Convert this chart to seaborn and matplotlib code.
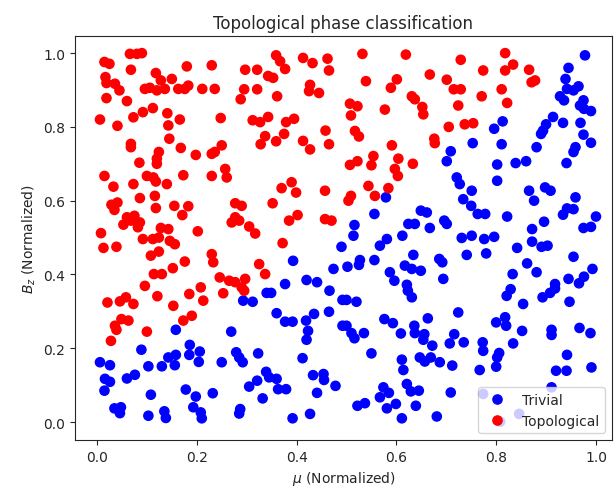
import matplotlib
matplotlib.use("Agg")
import matplotlib.pyplot as plt
import seaborn as sns
import pandas as pd

red_pts = [
    (0.015,0.976),(0.025,0.971),(0.066,0.998),(0.080,0.998),(0.090,1.0),(0.068,0.955),(0.017,0.935),(0.019,0.919),(0.036,0.917),(0.045,0.899),(0.019,0.878),(0.060,0.870),(0.118,0.946),(0.128,0.926),(0.150,0.930),(0.180,0.964),(0.096,0.903),(0.106,0.906),(0.120,0.899),(0.136,0.903),(0.163,0.903),(0.176,0.903),(0.183,0.912),(0.211,0.903),
    (0.006,0.820),(0.041,0.803),(0.073,0.826),(0.092,0.840),(0.112,0.851),(0.141,0.837),(0.143,0.804),(0.166,0.820),(0.145,0.768),(0.068,0.754),(0.068,0.745),(0.168,0.743),(0.198,0.724),(0.124,0.732),(0.120,0.714),(0.120,0.700),(0.085,0.703),
    (0.230,0.967),(0.359,0.994),(0.367,0.978),(0.377,0.957),(0.413,0.987),(0.432,0.973),(0.462,0.985),(0.465,0.953),(0.297,0.955),(0.321,0.955),(0.343,0.938),(0.353,0.933),(0.236,0.903),(0.295,0.902),(0.321,0.902),(0.288,0.875),(0.361,0.883),(0.427,0.914),(0.425,0.897),(0.445,0.892),(0.248,0.824),(0.312,0.818),(0.327,0.813),(0.343,0.827),(0.379,0.813),(0.395,0.822),(0.337,0.775),(0.328,0.753),(0.359,0.761),(0.375,0.781),(0.413,0.762),(0.427,0.739),(0.458,0.790),(0.465,0.753),(0.250,0.750),(0.236,0.732),(0.230,0.727),(0.257,0.686),
    (0.532,0.998),(0.619,0.996),(0.729,0.982),(0.667,0.942),(0.701,0.928),(0.539,0.924),(0.601,0.929),(0.589,0.906),(0.715,0.902),(0.729,0.902),(0.771,0.883),(0.631,0.883),(0.637,0.875),(0.507,0.863),(0.522,0.856),(0.509,0.831),(0.577,0.847),(0.652,0.854),(0.654,0.834),(0.724,0.858),(0.517,0.789),(0.525,0.774),(0.705,0.800),(0.737,0.807),(0.754,0.810),(0.676,0.768),(0.677,0.756),(0.591,0.750),(0.554,0.721),(0.550,0.696),(0.604,0.714),(0.597,0.686),(0.633,0.700),(0.507,0.697),(0.522,0.707),
    (0.818,1.0),(0.774,0.953),(0.818,0.953),(0.834,0.969),(0.866,0.955),(0.871,0.921),(0.878,0.926),(0.811,0.902),(0.822,0.865),
    (0.015,0.667),(0.100,0.667),(0.113,0.663),(0.118,0.652),(0.173,0.669),(0.033,0.638),(0.073,0.645),(0.140,0.645),(0.116,0.613),(0.086,0.607),(0.029,0.589),(0.041,0.595),(0.035,0.575),(0.118,0.580),(0.155,0.586),(0.183,0.585),(0.171,0.561),(0.060,0.555),(0.075,0.559),(0.053,0.535),(0.068,0.546),(0.086,0.541),(0.082,0.528),(0.128,0.526),(0.143,0.523),(0.202,0.517),(0.008,0.512),(0.092,0.496),(0.112,0.496),(0.124,0.500),(0.146,0.491),(0.156,0.482),(0.013,0.472),(0.039,0.475),(0.108,0.451),(0.124,0.462),
    (0.176,0.435),(0.152,0.417),(0.114,0.401),(0.130,0.401),(0.096,0.369),(0.121,0.341),(0.185,0.347),(0.208,0.365),(0.213,0.329),(0.021,0.324),(0.046,0.327),(0.058,0.338),(0.073,0.320),(0.153,0.315),
    (0.036,0.261),(0.049,0.279),(0.063,0.275),(0.039,0.250),(0.028,0.220),(0.100,0.245),(0.173,0.275),(0.190,0.288),
    (0.230,0.667),(0.260,0.663),(0.370,0.634),(0.390,0.650),(0.399,0.622),(0.457,0.627),(0.277,0.593),(0.290,0.586),(0.352,0.593),(0.277,0.555),(0.270,0.541),(0.285,0.546),(0.305,0.530),(0.317,0.511),(0.385,0.546),(0.402,0.561),(0.457,0.550),(0.470,0.546),(0.372,0.485),(0.230,0.455),(0.233,0.433),(0.325,0.428),(0.337,0.401),(0.246,0.392),(0.265,0.383),(0.277,0.379),(0.297,0.388),(0.290,0.365),(0.295,0.356),(0.253,0.349),
    (0.504,0.600),(0.509,0.613),(0.544,0.640),(0.557,0.613),(0.584,0.634),(0.603,0.667),
]

blue_pts = [
    (0.709,0.734),(0.701,0.707),(0.753,0.756),
    (0.978,0.994),(0.945,0.960),(0.939,0.930),(0.942,0.903),(0.955,0.899),(0.965,0.910),(0.928,0.883),(0.936,0.872),(0.975,0.872),(0.968,0.858),(0.976,0.849),(0.990,0.843),(0.914,0.827),(0.900,0.807),(0.934,0.811),(0.969,0.811),(0.894,0.790),(0.890,0.781),(0.975,0.779),(0.990,0.757),(0.813,0.815),(0.796,0.795),(0.811,0.753),(0.881,0.745),(0.959,0.745),(0.955,0.732),(0.802,0.698),(0.839,0.702),(0.860,0.707),(0.941,0.702),
    (0.158,0.250),(0.089,0.196),(0.006,0.162),(0.026,0.154),(0.016,0.117),(0.026,0.109),(0.015,0.085),(0.060,0.118),(0.076,0.128),(0.103,0.151),(0.130,0.151),(0.143,0.175),(0.158,0.182),(0.156,0.154),(0.186,0.209),(0.185,0.182),(0.206,0.191),(0.204,0.163),(0.108,0.074),(0.178,0.088),(0.198,0.069),(0.193,0.040),(0.208,0.026),(0.210,0.010),(0.035,0.037),(0.048,0.040),(0.046,0.024),(0.103,0.017),(0.135,0.029),(0.138,0.011),
    (0.490,0.475),(0.393,0.437),(0.474,0.415),(0.420,0.385),(0.441,0.379),(0.377,0.374),(0.340,0.350),(0.349,0.350),(0.466,0.356),(0.293,0.329),(0.312,0.326),(0.492,0.331),
    (0.360,0.295),(0.377,0.272),(0.392,0.272),(0.419,0.275),(0.435,0.293),(0.465,0.299),(0.423,0.247),(0.420,0.223),(0.492,0.261),(0.269,0.245),(0.279,0.189),(0.285,0.175),(0.292,0.162),(0.323,0.186),(0.250,0.162),(0.412,0.173),(0.339,0.136),(0.345,0.121),(0.360,0.117),(0.321,0.112),(0.305,0.096),(0.363,0.089),(0.379,0.089),(0.332,0.064),(0.232,0.078),(0.287,0.035),(0.285,0.023),(0.392,0.010),(0.427,0.022),(0.433,0.127),(0.454,0.130),(0.455,0.114),(0.478,0.098),(0.441,0.079),
    (0.579,0.609),(0.721,0.663),(0.727,0.645),(0.734,0.604),(0.751,0.627),(0.750,0.586),(0.763,0.564),(0.556,0.564),(0.516,0.534),(0.514,0.505),(0.649,0.573),(0.661,0.568),(0.696,0.546),(0.701,0.537),(0.624,0.537),(0.637,0.537),(0.667,0.526),(0.612,0.505),(0.581,0.496),(0.567,0.478),(0.731,0.499),(0.751,0.505),
    (0.634,0.453),(0.741,0.453),(0.527,0.439),(0.525,0.426),(0.502,0.421),(0.556,0.439),(0.686,0.442),(0.692,0.433),(0.617,0.424),(0.631,0.415),(0.649,0.410),(0.587,0.406),(0.596,0.383),(0.694,0.388),(0.621,0.372),(0.623,0.356),(0.631,0.338),(0.500,0.331),(0.520,0.326),
    (0.802,0.654),(0.866,0.627),(0.876,0.600),(0.898,0.636),(0.909,0.627),(0.959,0.609),(0.778,0.564),(0.822,0.557),(0.934,0.562),(0.942,0.579),(0.955,0.577),(1.000,0.557),(0.896,0.543),(0.872,0.523),(0.975,0.526),(0.990,0.529),(0.776,0.496),(0.796,0.502),(0.872,0.489),(0.891,0.475),(0.903,0.478),(0.780,0.457),(0.842,0.472),(0.955,0.448),(0.862,0.430),(0.881,0.406),(0.993,0.415),(0.833,0.401),(0.976,0.394),(0.945,0.388),(0.966,0.376),(0.918,0.374),(0.918,0.362),(0.829,0.360),(0.821,0.342),(0.908,0.350),(0.893,0.338),(0.854,0.320),(0.947,0.326),
    (0.724,0.297),(0.663,0.281),(0.576,0.279),(0.593,0.268),(0.500,0.261),(0.510,0.241),(0.516,0.227),(0.535,0.241),(0.609,0.240),(0.636,0.261),(0.637,0.241),(0.656,0.238),(0.654,0.223),(0.672,0.207),(0.716,0.238),(0.707,0.213),(0.735,0.216),(0.550,0.186),(0.611,0.169),(0.614,0.141),(0.647,0.175),(0.657,0.164),(0.669,0.175),(0.687,0.162),(0.712,0.153),(0.767,0.141),(0.574,0.094),(0.567,0.067),(0.585,0.079),(0.621,0.103),(0.629,0.083),(0.645,0.085),(0.709,0.080),(0.522,0.044),(0.537,0.051),(0.581,0.037),(0.599,0.049),(0.639,0.044),(0.611,0.010),(0.681,0.015),
    (0.800,0.270),(0.818,0.284),(0.820,0.261),(0.852,0.247),(0.911,0.250),(0.911,0.236),(0.967,0.255),(0.989,0.241),(0.773,0.216),(0.774,0.193),(0.834,0.213),(0.806,0.187),(0.802,0.175),(0.942,0.182),(0.800,0.150),(0.920,0.139),(0.941,0.139),(0.991,0.148),(0.774,0.076),(0.911,0.094),(0.846,0.022),(0.808,0.001),
]

labels = ["Trivial", "Topological"]
colors = {"Trivial": "blue", "Topological": "red"}

df = pd.DataFrame(
    [(x, y, "Trivial") for x, y in blue_pts] + [(x, y, "Topological") for x, y in red_pts],
    columns=["mu", "bz", "phase"],
)

sns.set_style("ticks")
plt.rcParams["font.family"] = ["DejaVu Sans"]
fig, ax = plt.subplots(figsize=(6.15, 4.89), dpi=100)
fig.subplots_adjust(left=0.122, right=0.995, top=0.924, bottom=0.098)

sns.scatterplot(data=df, x="mu", y="bz", hue="phase", hue_order=labels,
                palette=colors, s=44, edgecolor="face", linewidth=1, ax=ax)

ax.set_xlim(-0.044, 1.032)
ax.set_ylim(-0.049, 1.046)
ax.set_xticks([0.0, 0.2, 0.4, 0.6, 0.8, 1.0])
ax.set_yticks([0.0, 0.2, 0.4, 0.6, 0.8, 1.0])
ax.set_title("Topological phase classification", fontsize=12)
ax.set_xlabel(r"$\mu$ (Normalized)", fontsize=10)
ax.set_ylabel(r"$B_z$ (Normalized)", fontsize=10)
for s in ax.spines.values():
    s.set_visible(True)
ax.legend(loc="lower right", title=None, markerscale=1.0)

fig.savefig("out.png", dpi=100)
